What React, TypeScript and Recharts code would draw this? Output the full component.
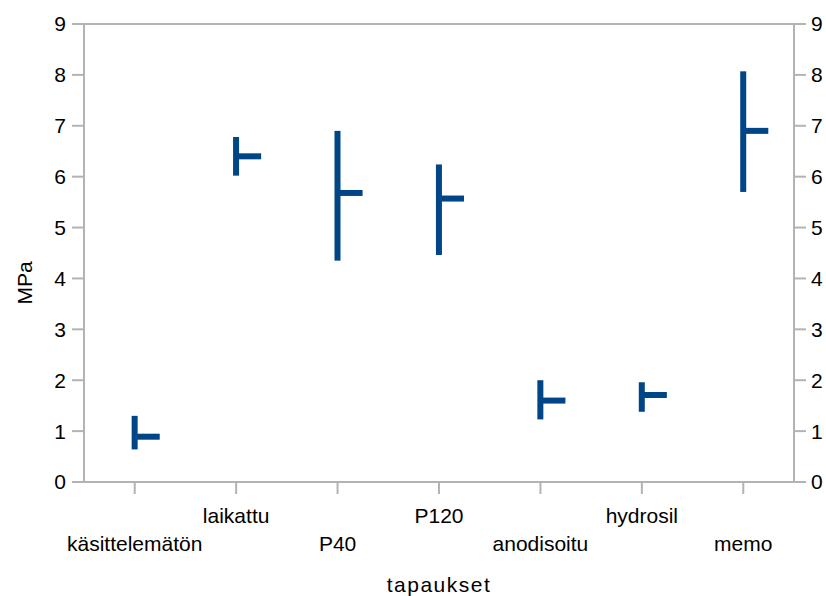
import { Bar, CartesianGrid, ComposedChart, Label, Line, XAxis, YAxis } from "recharts";

const categories = ["käsittelemätön", "laikattu", "P40", "P120", "anodisoitu", "hydrosil", "memo"];
const lows = [0.64, 6.02, 4.35, 4.46, 1.23, 1.38, 5.7];
const highs = [1.3, 6.78, 6.9, 6.24, 2.0, 1.96, 8.07];
const closes = [0.89, 6.4, 5.68, 5.57, 1.6, 1.71, 6.9];
const yTicks = [0, 1, 2, 3, 4, 5, 6, 7, 8, 9];

const data = categories.map((name, i) => ({
  name,
  range: [lows[i], highs[i]],
  close: closes[i],
}));

const blue = "#004586";
const grey = "#b3b3b3";
const font = "'Liberation Sans', Arial, sans-serif";

function RangeShape(props: any) {
  const { x, y, width, height } = props;
  const cx = x + width / 2;
  return <rect x={cx - 3} y={y} width={6} height={height} fill={blue} />;
}

function closeDot(props: any) {
  const { cx, cy, index } = props;
  return <rect key={`c-${index}`} x={cx} y={cy - 3} width={25} height={6} fill={blue} />;
}

// labels alternate between two rows, like the original
function StaggeredTick(props: any) {
  const { x, y, payload, index } = props;
  const upper = index % 2 === 1;
  return (
    <text
      x={x}
      y={y + (upper ? 29 : 57)}
      textAnchor="middle"
      fill="#000"
      fontSize={21}
      fontFamily={font}
    >
      {payload.value}
    </text>
  );
}

function YTitle(props: any) {
  const { viewBox } = props;
  const cx = viewBox.x + 24;
  const cy = viewBox.y + viewBox.height / 2 + 30;
  return (
    <text
      x={cx}
      y={cy}
      transform={`rotate(-90 ${cx} ${cy})`}
      textAnchor="middle"
      dominantBaseline="central"
      fill="#000"
      fontSize={21}
      fontFamily={font}
    >
      MPa
    </text>
  );
}

export default function App() {
  const tickStyle = { fill: "#000", fontSize: 21, fontFamily: font };
  return (
    <div style={{ position: "absolute", left: 0, top: 0, background: "#fff" }}>
      <ComposedChart
        width={826}
        height={596}
        data={data}
        margin={{ top: 24, right: 0, bottom: 0, left: 0 }}
      >
        <CartesianGrid vertical={false} stroke={grey} strokeWidth={2} />
        <XAxis
          dataKey="name"
          height={114}
          tickSize={12}
          tickMargin={0}
          stroke={grey}
          strokeWidth={2}
          interval={0}
          tick={<StaggeredTick />}
        >
          <Label
            value="tapaukset"
            position="insideBottom"
            offset={4}
            fill="#000"
            fontSize={21}
            fontFamily={font}
            letterSpacing={1.5}
          />
        </XAxis>
        <YAxis
          yAxisId="left"
          width={84}
          domain={[0, 9]}
          ticks={yTicks}
          tickSize={12}
          tickMargin={6}
          stroke={grey}
          strokeWidth={2}
          tick={tickStyle}
          interval={0}
        >
          <Label content={<YTitle />} />
        </YAxis>
        <YAxis
          yAxisId="right"
          orientation="right"
          width={32}
          domain={[0, 9]}
          ticks={yTicks}
          tickSize={12}
          tickMargin={5}
          stroke={grey}
          strokeWidth={2}
          tick={tickStyle}
          interval={0}
        />
        <Bar
          yAxisId="left"
          dataKey="range"
          shape={<RangeShape />}
          isAnimationActive={false}
        />
        <Line
          yAxisId="right"
          dataKey="close"
          stroke="none"
          dot={closeDot}
          activeDot={false}
          isAnimationActive={false}
        />
      </ComposedChart>
    </div>
  );
}
